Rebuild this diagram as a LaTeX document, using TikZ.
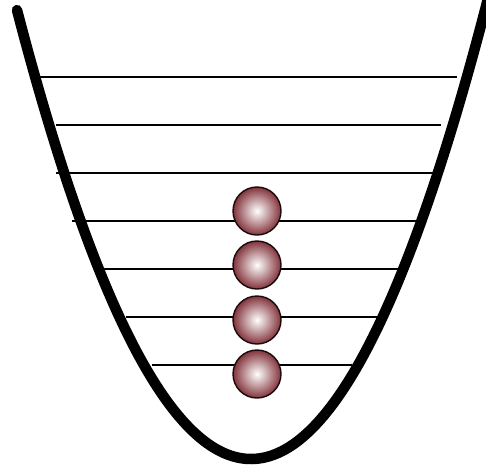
\documentclass[tikz,border=0pt]{standalone}
\definecolor{ballred}{RGB}{130,52,60}

\begin{document}
\begin{tikzpicture}[x=1pt, y=-1pt]
  \useasboundingbox (0,0) rectangle (486,474);
  \clip (0,0) rectangle (486,474);
  % energy levels
  \draw[line width=1.5pt] ( 38, 77) -- (457, 77);
  \draw[line width=1.5pt] ( 56,125) -- (441,125);
  \draw[line width=1.5pt] ( 56,173) -- (435,173);
  \draw[line width=1.5pt] ( 72,221) -- (418,221);
  \draw[line width=1.5pt] (103,269) -- (399,269);
  \draw[line width=1.5pt] (126,317) -- (378,317);
  \draw[line width=1.5pt] (152,365) -- (352,365);
  % potential well
  \draw[line width=10.5pt, line cap=round, line join=round]
    plot[domain=-234:242, samples=80, smooth] ({251+\x}, {459-(0.09055*\x)^2});
  % particles
  \foreach \y/\n in {211/a, 265/b, 320/c, 374/d}
    \node[circle, minimum size=48pt, inner sep=0pt, draw=black!80!ballred,
          line width=1.4pt, inner color=white, outer color=ballred]
      (ball\n) at (257,\y) {};
\end{tikzpicture}
\end{document}
